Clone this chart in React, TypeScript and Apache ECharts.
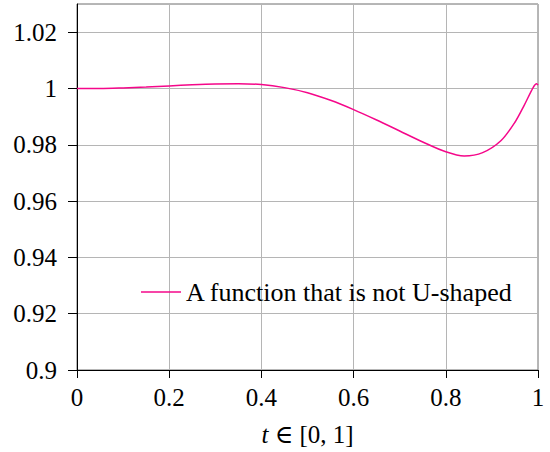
import React, { useEffect, useRef } from "react";
import * as echarts from "echarts";

const tValues = [0, 0.05, 0.1, 0.15, 0.2, 0.25, 0.3, 0.35, 0.4, 0.45, 0.5, 0.55, 0.6, 0.65, 0.7, 0.75, 0.8, 0.84, 0.88, 0.92, 0.95, 0.97, 0.99, 0.997, 1.0];
const fValues = [1.0, 1.0, 1.0002, 1.0005, 1.0009, 1.0013, 1.0016, 1.0017, 1.0014, 1.0003, 0.9985, 0.9958, 0.9925, 0.9888, 0.9849, 0.9810, 0.9775, 0.976, 0.9772, 0.9815, 0.988, 0.994, 1.0005, 1.0017, 1.0012];
const seriesName = "A function that is not U-shaped";

const FONT = "'Liberation Serif', 'DejaVu Serif', serif";

export default function App() {
  const ref = useRef<HTMLDivElement>(null);
  useEffect(() => {
    document.body.style.margin = "0";
    const chart = echarts.init(ref.current!, null, { renderer: "svg" });
    const fmt = (v: number) => String(+v.toFixed(2));
    chart.setOption({
      animation: false,
      backgroundColor: "#fff",
      textStyle: { fontFamily: FONT },
      grid: {
        left: 77,
        right: 12,
        top: 4,
        bottom: 79,
        show: true,
        borderColor: "#6e6e6e",
        borderWidth: 1,
        containLabel: false,
      },
      legend: {
        left: 136,
        top: 274,
        icon: "rect",
        itemWidth: 40,
        itemHeight: 1.5,
        padding: 5,
        textStyle: { fontFamily: FONT, fontSize: 26, color: "#000" },
        data: [seriesName],
      },
      xAxis: {
        type: "value",
        min: 0,
        max: 1,
        interval: 0.2,
        name: "{i|t} ∈ [0, 1]",
        nameLocation: "middle",
        nameGap: 52,
        nameTextStyle: {
          fontFamily: FONT,
          fontSize: 25,
          color: "#000",
          rich: { i: { fontFamily: FONT, fontSize: 25, fontStyle: "italic", color: "#000" } },
        },
        axisLine: { show: true, lineStyle: { color: "#000", width: 1 } },
        axisTick: { show: true, inside: false, length: 8, lineStyle: { color: "#000" } },
        axisLabel: { fontFamily: FONT, fontSize: 25, color: "#000", margin: 15, formatter: fmt },
        splitLine: { show: true, lineStyle: { color: "#b5b5b5", width: 1 } },
      },
      yAxis: {
        type: "value",
        min: 0.9,
        max: 1.03,
        interval: 0.02,
        axisLine: { show: true, lineStyle: { color: "#000", width: 1 } },
        axisTick: { show: true, inside: false, length: 9, lineStyle: { color: "#000" } },
        axisLabel: { fontFamily: FONT, fontSize: 25, color: "#000", margin: 20, formatter: fmt, showMaxLabel: false },
        splitLine: { show: true, lineStyle: { color: "#b5b5b5", width: 1 } },
      },
      series: [
        {
          name: seriesName,
          type: "line",
          data: tValues.map((t, i) => [t, fValues[i]]),
          smooth: 0.3,
          showSymbol: false,
          symbol: "none",
          color: "#f5078a",
          lineStyle: { color: "#f5078a", width: 1.5 },
        },
      ],
    });
    return () => chart.dispose();
  }, []);
  return <div ref={ref} style={{ width: 550, height: 452 }} />;
}
